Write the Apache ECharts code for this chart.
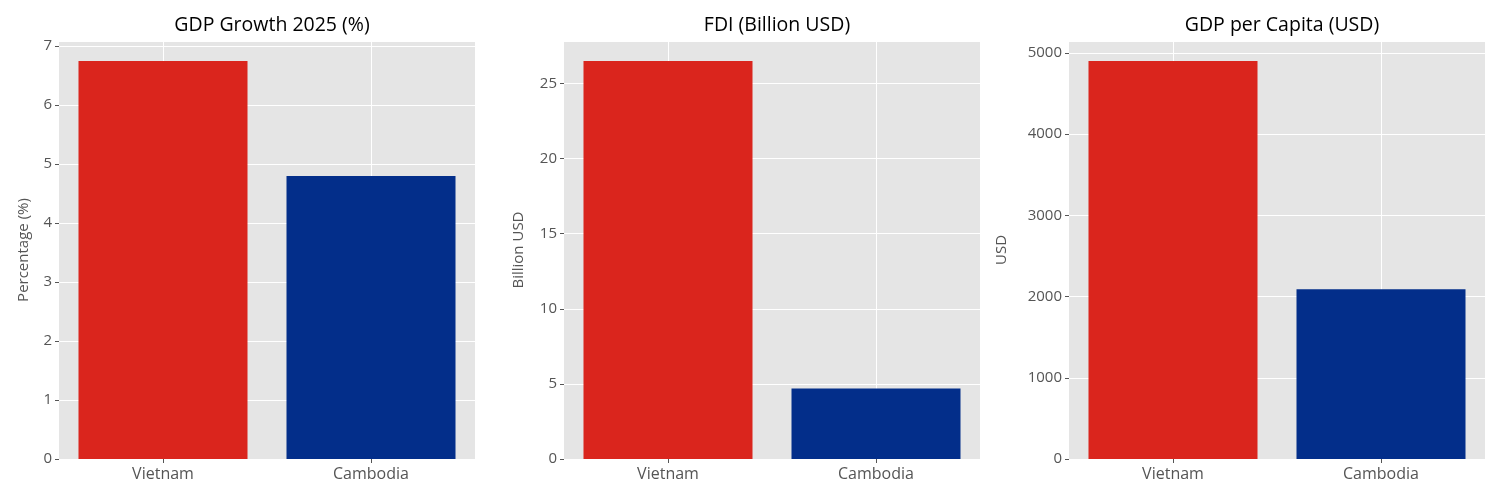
<!DOCTYPE html>
<html>
<head>
    <meta charset="utf-8">
    <title>Vietnam vs Cambodia</title>
    <script src="https://cdn.jsdelivr.net/npm/echarts@6/dist/echarts.min.js"></script>
    <style>
        html, body { margin: 0; padding: 0; background: #fff; }
        #main { width: 1500px; height: 500px; }
    </style>
</head>
<body>
<div id="main"></div>
<script>
// data
var countries = ['Vietnam', 'Cambodia'];
var barColors = ['#DA251D', '#032E8A'];
var gdpGrowth = [6.75, 4.8];
var fdi = [26.5, 4.7];
var gdpPerCapita = [4900, 2090];

var titles = ['GDP Growth 2025 (%)', 'FDI (Billion USD)', 'GDP per Capita (USD)'];
var yNames = ['Percentage (%)', 'Billion USD', 'USD'];
var yMax = [7.0875, 27.825, 5145];
var yInterval = [1, 5, 1000];
var nameGaps = [28, 38, 60];
var values = [gdpGrowth, fdi, gdpPerCapita];

var font = '"Open Sans", Roboto, sans-serif';
var lefts = [59, 564, 1069];
var plotW = 416;

var chart = echarts.init(document.getElementById('main'));

var option = {
    animation: false,
    textStyle: { fontFamily: font },
    title: [], grid: [], xAxis: [], yAxis: [], series: []
};

for (var i = 0; i < 3; i++) {
    option.title.push({
        text: titles[i],
        left: lefts[i] + plotW / 2,
        textAlign: 'center',
        top: 10,
        textStyle: { fontSize: 19.5, fontWeight: 'normal', color: '#000', fontFamily: font }
    });
    option.grid.push({
        left: lefts[i], top: 41, width: plotW, height: 418,
        show: true, backgroundColor: '#E5E5E5', borderWidth: 0
    });
    option.xAxis.push({
        type: 'category', gridIndex: i, data: countries,
        axisLine: { show: false },
        axisTick: { show: true, alignWithLabel: true, length: 4, lineStyle: { color: '#555' } },
        axisLabel: { color: '#555', fontSize: 16, margin: 7, fontFamily: font },
        splitLine: { show: false }
    });
    option.yAxis.push({
        type: 'value', gridIndex: i, min: 0, max: yMax[i], interval: yInterval[i],
        name: yNames[i], nameLocation: 'middle', nameGap: nameGaps[i],
        nameTextStyle: { color: '#555', fontSize: 15, fontFamily: font },
        axisLine: { show: false },
        axisTick: { show: true, length: 4, lineStyle: { color: '#555' } },
        axisLabel: {
            color: '#555', fontSize: 15, margin: 7, fontFamily: font,
            showMaxLabel: false,
            formatter: function (v) { return String(v); }
        },
        splitLine: { show: true, lineStyle: { color: '#fff', width: 1 } }
    });
    option.series.push({
        type: 'bar', xAxisIndex: i, yAxisIndex: i,
        barWidth: 169,
        data: values[i].map(function (v, k) {
            return { value: v, itemStyle: { color: barColors[k] } };
        }),
        markLine: {
            silent: true, symbol: 'none', z: 1,
            label: { show: false },
            lineStyle: { color: '#fff', width: 1, type: 'solid' },
            data: countries.map(function (c) { return { xAxis: c }; })
        }
    });
}

chart.setOption(option);
</script>
</body>
</html>
